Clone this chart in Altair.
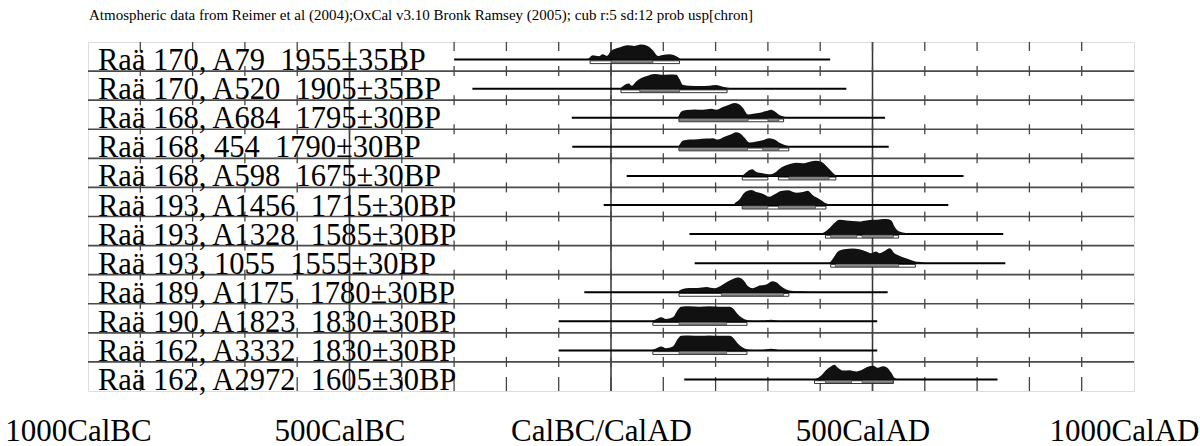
import itertools
import altair as alt
import pandas as pd

TITLE = "Atmospheric data from Reimer et al (2004);OxCal v3.10 Bronk Ramsey (2005); cub r:5 sd:12 prob usp[chron]"

NB = "\u00a0"  # keeps the double space between lab code and date
labels = [
    f"Raä 170, A79 {NB}1955±35BP",
    f"Raä 170, A520 {NB}1905±35BP",
    f"Raä 168, A684 {NB}1795±30BP",
    f"Raä 168, 454 {NB}1790±30BP",
    f"Raä 168, A598 {NB}1675±30BP",
    f"Raä 193, A1456 {NB}1715±30BP",
    f"Raä 193, A1328 {NB}1585±30BP",
    f"Raä 193, 1055 {NB}1555±30BP",
    f"Raä 189, A1175 {NB}1780±30BP",
    f"Raä 190, A1823 {NB}1830±30BP",
    f"Raä 162, A3332 {NB}1830±30BP",
    f"Raä 162, A2972 {NB}1605±30BP",
]

# extent of the plotted calibration range per row (cal years, BC negative)
line_start = [-300, -265, -75, -74, 30, -14, 150, 160, -51, -100, -100, 140]
line_end = [419, 450, 524, 531, 674, 645, 750, 754, 529, 509, 509, 739]

# probability distributions (year, relative density) per row
dist_years = [
    [-46, -44, -35, -23, -16, -8, 0, 16, 32, 45, 57, 70, 80, 90, 99, 112, 125, 134, 137],
    [17, 19, 34, 40, 48, 58, 70, 83, 96, 112, 125, 131, 137, 150, 169, 188, 201, 214, 233, 236],
    [126, 128, 134, 144, 160, 176, 192, 201, 214, 227, 236, 243, 252, 262, 272, 285, 297, 306, 314, 322, 335, 348],
    [128, 130, 137, 150, 166, 182, 195, 204, 217, 230, 239, 247, 255, 265, 278, 290, 303, 313, 322, 335, 348],
    [250, 252, 262, 270, 278, 290, 303, 313, 325, 338, 354, 367, 380, 392, 402, 415, 424, 430, 433],
    [234, 236, 246, 255, 268, 278, 290, 303, 313, 325, 338, 354, 367, 376, 386, 399, 411, 421],
    [400, 405, 418, 427, 437, 450, 462, 475, 488, 501, 513, 526, 536, 542, 548, 561, 574],
    [414, 418, 427, 434, 446, 462, 475, 488, 497, 507, 513, 523, 533, 542, 552, 564, 580, 596, 600],
    [126, 128, 137, 150, 166, 182, 198, 211, 223, 233, 242, 252, 262, 271, 284, 297, 308, 316, 325, 335, 348, 367, 386],
    [76, 80, 90, 96, 105, 118, 128, 134, 150, 169, 188, 207, 227, 233, 242, 252, 265, 284, 306, 322],
    [76, 80, 90, 96, 105, 118, 128, 134, 150, 169, 188, 207, 227, 233, 242, 252, 265, 284, 306, 322],
    [388, 392, 402, 411, 421, 427, 434, 443, 456, 469, 481, 491, 501, 510, 520, 527, 536, 542, 552],
]
dist_dens = [
    [0, 0.6, 4.3, 3.3, 5.3, 3.7, 8.7, 12, 14.3, 13.7, 15, 13.7, 9.3, 3.7, 4.7, 5.3, 3.3, 0.3, 0],
    [0, 1.0, 5.3, 3.0, 7.3, 10.7, 13, 14.7, 14, 14.3, 14, 9.7, 4, 3, 2.7, 3, 3.7, 2, 0.3, 0],
    [0, 0.7, 6, 7.7, 8.3, 8, 9, 8, 10.7, 13.3, 14.7, 14, 10, 3.3, 4, 5, 6.7, 8, 6, 2.7, 0.7, 0],
    [0, 1.3, 6, 7.3, 7.7, 8.3, 8.7, 7.3, 10, 12.7, 14.7, 13.3, 9.3, 4.3, 5.3, 6.7, 8.7, 7.3, 4, 1.3, 0],
    [0, 0.7, 5, 6.7, 4, 2.7, 1.7, 3.3, 8.3, 11.3, 13.3, 12.7, 14.3, 15.3, 14.3, 8.3, 3.3, 0.7, 0],
    [0, 1.3, 5.7, 12.3, 15, 13, 11.3, 8.3, 10.7, 14, 14.7, 12.3, 13, 14.3, 9.7, 5.7, 1.7, 0],
    [0, 1.0, 6, 11, 14.3, 13.7, 13, 12.7, 13.7, 14.3, 14.7, 15, 13.7, 7.7, 3.7, 1.3, 0],
    [0, 0.7, 6.7, 11.7, 14, 14.7, 14, 11.7, 10, 11.7, 10, 12.3, 15, 10, 7.3, 5, 2, 0.7, 0],
    [0, 0.7, 3.3, 4.3, 4.3, 5.3, 4, 6.7, 10.7, 13.3, 14.7, 12.7, 6, 4, 6.7, 7.7, 11, 10, 6, 2.7, 1.3, 1, 0],
    [0, 0.7, 3, 4, 2.3, 4, 11.7, 14.7, 15, 14.7, 15, 14.7, 14.7, 13, 7.3, 3, 0.7, 0.3, 1.7, 0],
    [0, 0.7, 3, 4, 2.3, 4, 11.7, 14.7, 15, 14.7, 15, 14.7, 14.7, 13, 7.3, 3, 0.7, 0.3, 1.7, 0],
    [0, 0.7, 4, 9.3, 13.3, 14.7, 11.7, 9, 9.3, 8, 10, 12.7, 13.7, 11.7, 13.3, 12.3, 6.7, 1.7, 0],
]

# 95.4% and 68.2% ranges: (row, from, to)
range95 = [
    (0, -40, 131), (1, 19, 222), (2, 130, 330), (3, 130, 340),
    (4, 251, 300), (4, 320, 430), (5, 251, 411), (6, 410, 550),
    (7, 420, 582), (8, 130, 340), (9, 80, 260), (10, 80, 260), (11, 389, 540),
]
range68 = [
    (0, 0, 80), (1, 55, 131), (2, 130, 262), (2, 300, 321),
    (3, 130, 261), (3, 290, 321), (4, 340, 417), (5, 251, 300),
    (5, 320, 391), (6, 420, 470), (6, 480, 540), (7, 429, 550),
    (8, 211, 330), (9, 130, 221), (10, 130, 221), (11, 410, 460), (11, 480, 539),
]

axis_values = [-1000, -500, 0, 500, 1000]
axis_labels = ["1000CalBC", "500CalBC", "CalBC/CalAD", "500CalAD", "1000CalAD"]
tick_years = list(range(-900, 1000, 100))

N = len(labels)
ROW_PX = 349.0 / N
BASE_OFF = 17.6 / ROW_PX  # baseline offset below row top (rows)
FONT = "Liberation Serif"

rows_df = pd.DataFrame({"row": list(range(N)), "label": labels,
                        "start": line_start, "end": line_end})
dist_df = pd.DataFrame(
    [(i, y, d) for i in range(N) for y, d in zip(dist_years[i], dist_dens[i])],
    columns=["row", "year", "dens"],
)
r95_df = pd.DataFrame(range95, columns=["row", "start", "end"])
r68_df = pd.DataFrame(range68, columns=["row", "start", "end"])
tick_df = pd.DataFrame(list(itertools.product(tick_years, range(N + 1))),
                       columns=["year", "b"])
bound_df = pd.DataFrame({"b": list(range(1, N))})
vline_df = pd.DataFrame({"year": [-500, 0, 500]})
axis_df = pd.DataFrame({"year": axis_values})
title_df = pd.DataFrame({"t": [TITLE]})

xscale = alt.Scale(domain=[-1000, 1000], nice=False, zero=False)
yscale = alt.Scale(domain=[0, N], nice=False, zero=False)
label_expr = " : ".join(
    f"datum.value == {v} ? '{t}'" for v, t in zip(axis_values, axis_labels)
) + " : ''"

X = alt.X("year:Q", scale=xscale, axis=alt.Axis(
    values=axis_values, labelExpr=label_expr, domain=False, ticks=False,
    grid=False, title=None, labelFont=FONT, labelFontSize=31,
    labelColor="black", labelOffset=-10, labelBaseline="alphabetic",
    labelPadding=49, labelFlush=False, labelOverlap=False, labelBound=False,
    labelLimit=0))

base_calc = f"{N} - datum.row - {BASE_OFF}"

axis_layer = alt.Chart(axis_df).mark_rule(opacity=0).encode(x=X)

row_lines = alt.Chart(bound_df).mark_rule(color="#4a4a4a", strokeWidth=1.6).encode(
    y=alt.Y("b:Q", scale=yscale, axis=None))

vlines = alt.Chart(vline_df).mark_rule(color="#333", strokeWidth=1.5).encode(
    x=alt.X("year:Q", scale=xscale))

ticks = alt.Chart(tick_df).transform_calculate(
    y2=f"datum.b == {N} ? datum.b - 9/{ROW_PX} : (datum.b == 0 ? 14/{ROW_PX} : datum.b - 5/{ROW_PX})",
    y3=f"datum.b == {N} ? datum.b : (datum.b == 0 ? 0 : datum.b + 5/{ROW_PX})",
).mark_rule(color="#444", strokeWidth=1.3).encode(
    x=alt.X("year:Q", scale=xscale),
    y=alt.Y("y2:Q", scale=yscale, axis=None),
    y2="y3:Q")

range_lines = alt.Chart(rows_df).transform_calculate(
    base=base_calc
).mark_rule(color="black", strokeWidth=2).encode(
    x=alt.X("start:Q", scale=xscale), x2="end:Q",
    y=alt.Y("base:Q", scale=yscale, axis=None))

r95 = alt.Chart(r95_df).transform_calculate(
    base=base_calc,
    ya=f"datum.base - 1.2/{ROW_PX}",
    yb=f"datum.base - 4/{ROW_PX}",
).mark_rect(fill="white", stroke="black", strokeWidth=0.8).encode(
    x=alt.X("start:Q", scale=xscale), x2="end:Q",
    y=alt.Y("ya:Q", scale=yscale, axis=None), y2="yb:Q")

r68 = alt.Chart(r68_df).transform_calculate(
    base=base_calc,
    ya=f"datum.base - 0.8/{ROW_PX}",
    yb=f"datum.base - 3.4/{ROW_PX}",
).mark_rect(fill="#8c8c8c", stroke="#333", strokeWidth=0.6).encode(
    x=alt.X("start:Q", scale=xscale), x2="end:Q",
    y=alt.Y("ya:Q", scale=yscale, axis=None), y2="yb:Q")

areas = alt.Chart(dist_df).transform_calculate(
    base=base_calc,
    top=f"datum.base + datum.dens / {ROW_PX}",
).mark_area(color="#111", interpolate="monotone").encode(
    x=alt.X("year:Q", scale=xscale),
    y=alt.Y("top:Q", scale=yscale, axis=None), y2="base:Q",
    detail="row:N")

texts = alt.Chart(rows_df).transform_calculate(
    ly=f"{N} - 1 - datum.row"
).mark_text(align="left", baseline="alphabetic", dx=10, dy=-1,
            font=FONT, fontSize=30.5, color="black").encode(
    x=alt.datum(-1000, scale=xscale),
    y=alt.Y("ly:Q", scale=yscale, axis=None),
    text="label:N")

title = alt.Chart(title_df).mark_text(
    align="left", baseline="alphabetic", dx=1, dy=-22,
    font=FONT, fontSize=15, color="black").encode(
    x=alt.datum(-1000, scale=xscale),
    y=alt.datum(N, scale=yscale),
    text="t:N")

chart = alt.layer(
    axis_layer, row_lines, vlines, ticks, range_lines, r95, r68, areas, texts, title
).properties(
    width=1046, height=349,
    autosize=alt.AutoSizeParams(type="none"),
    padding={"left": 88, "top": 42, "right": 66, "bottom": 55},
).configure_view(stroke="black", strokeWidth=1.5).configure(background="white")

chart.save("out.html", embed_options={"renderer": "svg", "actions": False})
